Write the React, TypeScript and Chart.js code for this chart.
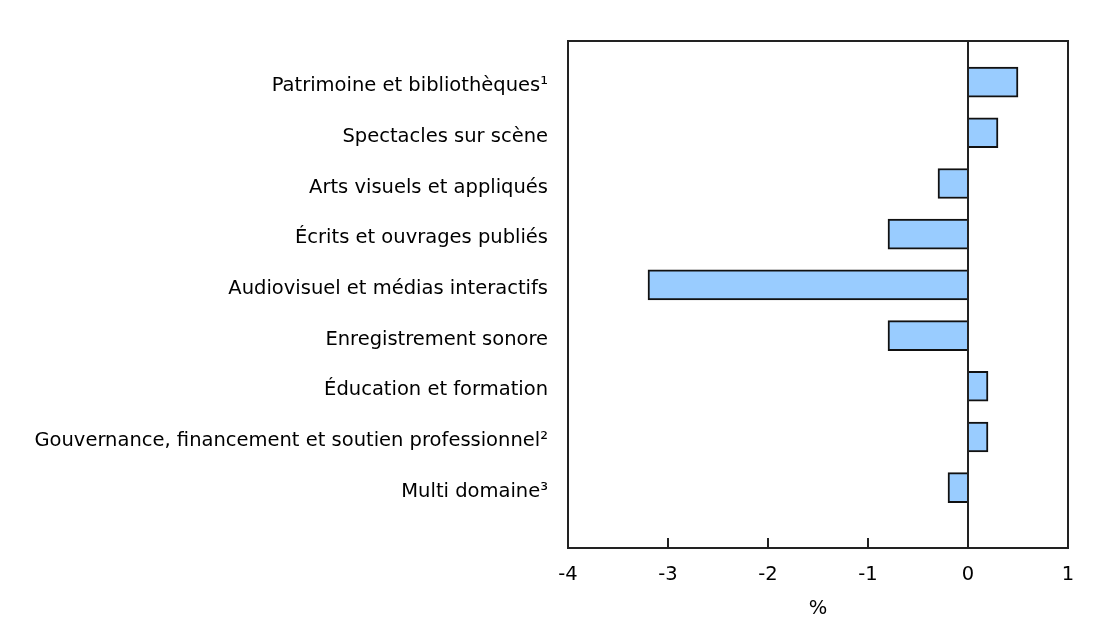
import { useEffect, useRef } from "react"
import { Chart, registerables } from "chart.js"

Chart.register(...registerables)

const categories = [
  "Patrimoine et bibliothèques¹",
  "Spectacles sur scène",
  "Arts visuels et appliqués",
  "Écrits et ouvrages publiés",
  "Audiovisuel et médias interactifs",
  "Enregistrement sonore",
  "Éducation et formation",
  "Gouvernance, financement et soutien professionnel²",
  "Multi domaine³",
]
const values = [0.5, 0.3, -0.3, -0.8, -3.2, -0.8, 0.2, 0.2, -0.2]
const xTicks = [-4, -3, -2, -1, 0, 1]
const xTitle = "%"

const FONT = "'DejaVu Sans', Verdana, sans-serif"
const LINE = "#222"

// draws the frame around the plot area
const framePlugin = {
  id: "frame",
  afterDraw(chart: any) {
    const { ctx, chartArea } = chart
    ctx.save()
    ctx.strokeStyle = LINE
    ctx.lineWidth = 2
    ctx.strokeRect(chartArea.left, chartArea.top, chartArea.right - chartArea.left, chartArea.bottom - chartArea.top)
    ctx.restore()
  },
}

export default function App() {
  const chartRef = useRef<HTMLCanvasElement | null>(null)

  useEffect(() => {
    if (!chartRef.current) return
    const ctx = chartRef.current.getContext("2d")
    if (!ctx) return

    const myChart = new Chart(ctx, {
      type: "bar",
      data: {
        datasets: [{
          data: values.map((v, i) => ({ x: v, y: i })),
          backgroundColor: "#99ccff",
          borderColor: "#111",
          borderWidth: 2,
          barThickness: 30,
        }],
      },
      options: {
        indexAxis: "y",
        animation: false,
        responsive: false,
        events: [],
        layout: { padding: { top: 33, right: 40, bottom: 2, left: 0 } },
        plugins: { legend: { display: false }, tooltip: { enabled: false } },
        scales: {
          x: {
            type: "linear",
            min: -4,
            max: 1,
            afterBuildTicks: (scale: any) => { scale.ticks = xTicks.map(v => ({ value: v })) },
            afterFit: (scale: any) => { scale.height = 73 },
            border: { display: false },
            grid: {
              drawOnChartArea: true,
              color: (c: any) => (c.tick && c.tick.value === 0 ? LINE : "rgba(0,0,0,0)"),
              lineWidth: 2,
              tickColor: LINE,
              tickWidth: 2,
              tickLength: -10,
            },
            ticks: {
              color: "#000",
              font: { family: FONT, size: 19.5 },
              padding: 25,
              maxRotation: 0,
            },
            title: {
              display: true,
              text: xTitle,
              color: "#000",
              font: { family: FONT, size: 19.5 },
              padding: { top: 0, bottom: 0 },
            },
          },
          y: {
            type: "linear",
            reverse: true,
            offset: false,
            min: -0.81,
            max: 9.19,
            afterBuildTicks: (scale: any) => { scale.ticks = categories.map((_, i) => ({ value: i })) },
            afterFit: (scale: any) => { scale.width = 560 },
            border: { display: false },
            grid: { display: false, offset: false },
            ticks: {
              color: "#000",
              font: { family: FONT, size: 19.5 },
              padding: 12,
              labelOffset: 4,
              callback: (v: any) => categories[v as number] ?? "",
            },
          },
        },
      },
      plugins: [framePlugin],
    })

    return () => {
      myChart.destroy()
    }
  }, [])

  return (
    <div style={{ width: 1100, height: 615 }}>
      <canvas ref={chartRef} width={1100} height={615} style={{ width: 1100, height: 615 }} />
    </div>
  )
}
